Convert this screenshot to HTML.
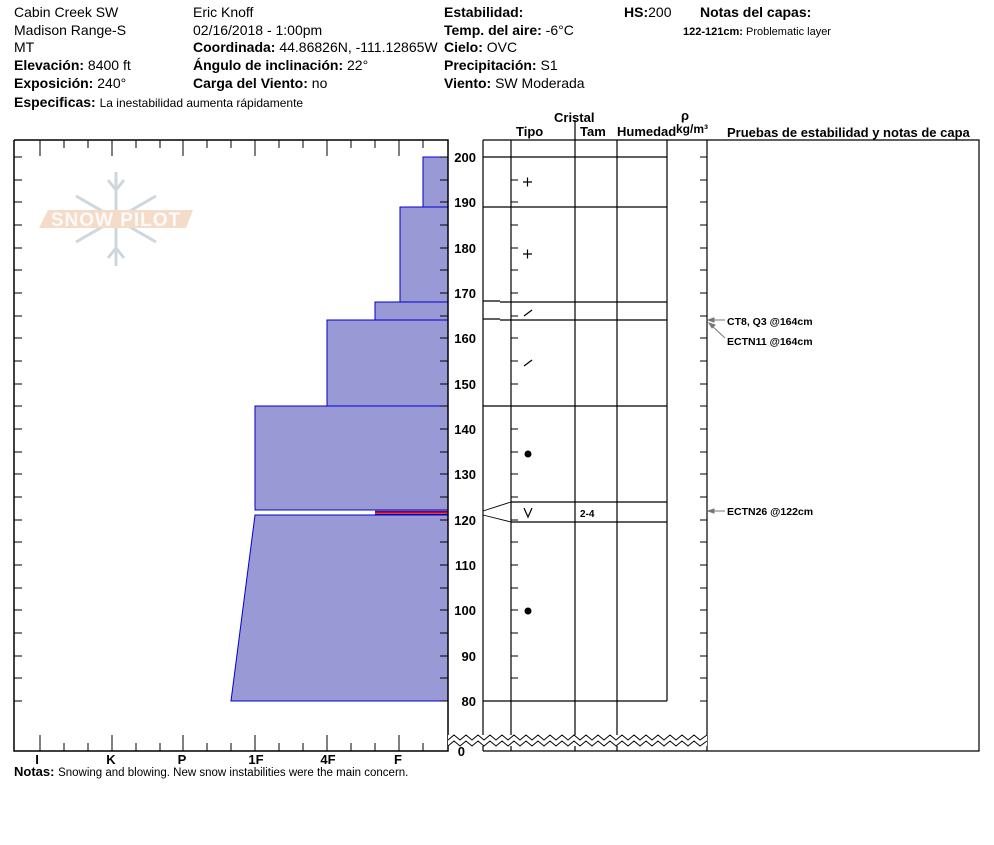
<!DOCTYPE html>
<html><head><meta charset="utf-8"><style>
body{margin:0;background:#fff;width:994px;height:840px;overflow:hidden}
svg{font-family:"Liberation Sans",Arial,sans-serif}
.b{font-weight:bold}
</style></head><body>
<svg width="994" height="840" viewBox="0 0 994 840" xmlns="http://www.w3.org/2000/svg">
<g font-size="14" fill="#000">
<text x="14" y="17">Cabin Creek SW</text>
<text x="14" y="35">Madison Range-S</text>
<text x="14" y="52">MT</text>
<text x="14" y="70"><tspan class="b">Elevación:</tspan> 8400 ft</text>
<text x="14" y="88"><tspan class="b">Exposición:</tspan> 240°</text>
<text x="14" y="107"><tspan class="b">Especificas:</tspan> <tspan font-size="12">La inestabilidad aumenta rápidamente</tspan></text>
<text x="193" y="17">Eric Knoff</text>
<text x="193" y="35">02/16/2018 - 1:00pm</text>
<text x="193" y="52"><tspan class="b">Coordinada:</tspan> 44.86826N, -111.12865W</text>
<text x="193" y="70"><tspan class="b">Ángulo de inclinación:</tspan> 22°</text>
<text x="193" y="88"><tspan class="b">Carga del Viento:</tspan> no</text>
<text x="444" y="17" class="b">Estabilidad:</text>
<text x="444" y="35"><tspan class="b">Temp. del aire:</tspan> -6°C</text>
<text x="444" y="52"><tspan class="b">Cielo:</tspan> OVC</text>
<text x="444" y="70"><tspan class="b">Precipitación:</tspan> S1</text>
<text x="444" y="88"><tspan class="b">Viento:</tspan>  SW Moderada</text>
<text x="624" y="17"><tspan class="b">HS:</tspan>200</text>
<text x="700" y="17" class="b">Notas del capas:</text>
<text x="683" y="35" font-size="11"><tspan class="b">122-121cm:</tspan> Problematic layer</text>
</g>
<g opacity="0.9">
<g stroke="#c9d3da" stroke-width="3" fill="none">
<path d="M116 172 V266 M76 196 L156 242 M156 196 L76 242 M108 180 L116 190 L124 180 M108 258 L116 248 L124 258"/>
</g>
<polygon points="48,210 193,210 186,228 39,228" fill="#f3d9c3"/>
<text x="116" y="226" font-size="19" font-weight="bold" fill="#fafafa" text-anchor="middle" letter-spacing="1">SNOW PILOT</text>
</g>
<g fill="#9999d6" stroke="#0000cc" stroke-width="1">
<rect x="423" y="157" width="25" height="50"/>
<rect x="400" y="207" width="48" height="95"/>
<rect x="375" y="302" width="73" height="18"/>
<rect x="327" y="320" width="121" height="86"/>
<rect x="255" y="406" width="193" height="104"/>
<polygon points="255,515 448,515 448,701 231,701"/>
</g>
<rect x="375" y="510" width="73" height="5" fill="#9999d6"/>
<line x1="375" y1="511" x2="448" y2="511" stroke="#0000cc"/>
<line x1="375" y1="512.5" x2="448" y2="512.5" stroke="#dd0000" stroke-width="2"/>
<line x1="375" y1="514.5" x2="448" y2="514.5" stroke="#0000cc"/>
<g stroke="#000" stroke-width="1.5" fill="none">
<path d="M14 140 V751 H448 V140 H14"/>
</g>
<g stroke="#000" stroke-width="1">
<path d="M40 140v16M112 140v16M183 140v16M255 140v16M327 140v16M399 140v16M64 140v8M88 140v8M136 140v8M160 140v8M207 140v8M231 140v8M279 140v8M303 140v8M351 140v8M375 140v8M423 140v8"/>
<path d="M40 751v-16M112 751v-16M183 751v-16M255 751v-16M327 751v-16M399 751v-16M64 751v-8M88 751v-8M136 751v-8M160 751v-8M207 751v-8M231 751v-8M279 751v-8M303 751v-8M351 751v-8M375 751v-8M423 751v-8"/>
<path d="M14 157h8M14 180h8M14 202h8M14 225h8M14 248h8M14 270h8M14 293h8M14 316h8M14 338h8M14 361h8M14 384h8M14 406h8M14 429h8M14 452h8M14 474h8M14 497h8M14 520h8M14 542h8M14 565h8M14 588h8M14 610h8M14 633h8M14 656h8M14 678h8M14 701h8"/>
<path d="M440 157h8M440 180h8M440 202h8M440 225h8M440 248h8M440 270h8M440 293h8M440 316h8M440 338h8M440 361h8M440 384h8M440 406h8M440 429h8M440 452h8M440 474h8M440 497h8M440 520h8M440 542h8M440 565h8M440 588h8M440 610h8M440 633h8M440 656h8M440 678h8M440 701h8"/>
<path d="M511 157h7M511 180h7M511 202h7M511 225h7M511 248h7M511 270h7M511 293h7M511 316h7M511 338h7M511 361h7M511 384h7M511 406h7M511 429h7M511 452h7M511 474h7M511 497h7M511 520h7M511 542h7M511 565h7M511 588h7M511 610h7M511 633h7M511 656h7M511 678h7M511 701h7"/>
<path d="M700 157h7M700 180h7M700 202h7M700 225h7M700 248h7M700 270h7M700 293h7M700 316h7M700 338h7M700 361h7M700 384h7M700 406h7M700 429h7M700 452h7M700 474h7M700 497h7M700 520h7M700 542h7M700 565h7M700 588h7M700 610h7M700 633h7M700 656h7M700 678h7M700 701h7"/>
</g>
<g font-size="13" font-weight="bold" text-anchor="end">
<text x="476" y="162">200</text><text x="476" y="207">190</text><text x="476" y="253">180</text><text x="476" y="298">170</text><text x="476" y="343">160</text><text x="476" y="389">150</text><text x="476" y="434">140</text><text x="476" y="479">130</text><text x="476" y="525">120</text><text x="476" y="570">110</text><text x="476" y="615">100</text><text x="476" y="661">90</text><text x="476" y="706">80</text><text x="465" y="756">0</text>
</g>
<g font-size="13" font-weight="bold" text-anchor="middle">
<text x="37" y="764">I</text><text x="111" y="764">K</text><text x="182" y="764">P</text><text x="256" y="764">1F</text><text x="328" y="764">4F</text><text x="398" y="764">F</text>
</g>
<text x="14" y="776" font-size="13"><tspan font-weight="bold">Notas:</tspan> <tspan font-size="11.5">Snowing and blowing. New snow instabilities were the main concern.</tspan></text>
<g stroke="#000" stroke-width="1.2" fill="none">
<path d="M483 140 H979 V751 H707 M483 140 V751 M511 140 V751 M575 140 V751 M617 140 V751 M667 140 V701 M707 140 V751 M483 751 H707"/>
<path d="M483 157 H667 M483 207 H667 M500 302 H667 M483 301 H500 M500 320 H667 M483 319 H500 M483 406 H667 M511 502 H667 M511 522 H667 M483 701 H667"/>
<path d="M483 511 L511 502 M483 515 L511 522" stroke-width="0.9"/>
<line x1="575" y1="120" x2="575" y2="140"/>
</g>
<polygon points="448,735 707,735 707,746 448,746" fill="#fff"/>
<path d="M448 740 l6 -5 6 5 6 -5 6 5 6 -5 6 5 6 -5 6 5 6 -5 6 5 6 -5 6 5 6 -5 6 5 6 -5 6 5 6 -5 6 5 6 -5 6 5 6 -5 6 5 6 -5 6 5 6 -5 6 5 6 -5 6 5 6 -5 6 5 6 -5 6 5 6 -5 6 5 6 -5 6 5 6 -5 6 5 6 -5 6 5 6 -5 6 5 7 -5" fill="none" stroke="#000" stroke-width="1"/>
<path d="M448 746 l6 -5 6 5 6 -5 6 5 6 -5 6 5 6 -5 6 5 6 -5 6 5 6 -5 6 5 6 -5 6 5 6 -5 6 5 6 -5 6 5 6 -5 6 5 6 -5 6 5 6 -5 6 5 6 -5 6 5 6 -5 6 5 6 -5 6 5 6 -5 6 5 6 -5 6 5 6 -5 6 5 6 -5 6 5 6 -5 6 5 6 -5 6 5 7 -5" fill="none" stroke="#000" stroke-width="1"/>
<g font-size="13" font-weight="bold">
<text x="554" y="122">Cristal</text>
<text x="516" y="136">Tipo</text>
<text x="580" y="136">Tam</text>
<text x="617" y="136">Humedad</text>
<text x="676" y="133" font-size="12">kg/m³</text>
<text x="681" y="120">ρ</text>
<text x="727" y="137">Pruebas de estabilidad y notas de capa</text>
</g>
<g stroke="#000" stroke-width="1.2">
<path d="M523 182h9M527.5 177.5v9M523 254h9M527.5 249.5v9M524 316l8 -6M524 366l8 -6"/>
<path d="M524 508 L528 517 L532 508" fill="none"/>
</g>
<circle cx="528" cy="454" r="3.5"/><circle cx="528" cy="611" r="3.5"/>
<text x="580" y="517" font-size="10" font-weight="bold">2-4</text>
<g stroke="#777" stroke-width="1" fill="#777">
<path d="M710 320 H725" /><polygon points="708,320 714,318 714,322"/>
<path d="M711 325 L725 338"/><polygon points="709,323 715,325 712,328"/>
<path d="M710 511 H725"/><polygon points="708,511 714,509 714,513"/>
</g>
<g font-size="10.5" font-weight="bold">
<text x="727" y="325">CT8, Q3 @164cm</text>
<text x="727" y="345">ECTN11 @164cm</text>
<text x="727" y="515">ECTN26 @122cm</text>
</g>
</svg>
</body></html>
